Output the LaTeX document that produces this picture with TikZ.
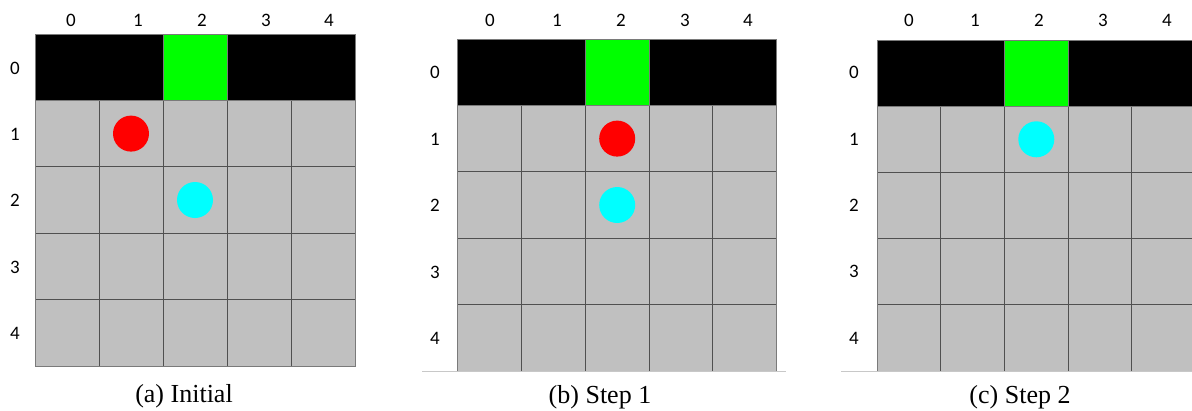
\documentclass[tikz,border=0pt]{standalone}
\usepackage{fontspec}
\setmainfont{Liberation Serif}
\newfontfamily\carlitofont{Carlito}
\definecolor{cellgray}{HTML}{C0C0C0}
\definecolor{goalgreen}{HTML}{00FF00}
\definecolor{agentred}{HTML}{FF0000}
\definecolor{agentcyan}{HTML}{00FFFF}
\definecolor{gridcol}{HTML}{505050}
\definecolor{bordercol}{HTML}{7A7A7A}
\definecolor{floorcol}{HTML}{C8C8C8}
\newcommand{\gwpanel}{%
  \fill[cellgray] (0,1) rectangle (5,5);
  \fill[black] (0,0) rectangle (5,1);
  \fill[goalgreen] (2,0) rectangle (3,1);
  \foreach \i in {1,...,4} \draw[gridline] (\i,1) -- (\i,5);
  \foreach \j in {2,...,4} \draw[gridline] (0,\j) -- (5,\j);
  \draw[borderline] (0,1) -- (5,1);
  \draw[borderline] (2,0) rectangle (3,1);
  \draw[borderline] (0,0) rectangle (5,5);
}
\begin{document}
\begin{tikzpicture}[x=1pt,y=-1pt,
  gridline/.style={draw=gridcol,line width=0.9pt},
  borderline/.style={draw=bordercol,line width=0.9pt},
  lbl/.style={font=\carlitofont\fontsize{19pt}{21pt}\selectfont,inner sep=0pt,text=black},
  capt/.style={font=\fontsize{26pt}{29pt}\selectfont,inner sep=0pt},
  agent/.style={circle,minimum size=36pt,inner sep=0pt}]
\useasboundingbox (0,0) rectangle (1192,410);
\fill[white] (0,0) rectangle (1192,410);

% panel a
\begin{scope}[shift={(35pt,-34pt)},x=64pt,y=-66.4pt]
  \gwpanel
  \node[agent,fill=agentred] (aRed) at (1.5,1.5) {};
  \node[agent,fill=agentcyan] (aCyan) at (2.5,2.5) {};
\end{scope}
% panel b
\begin{scope}[shift={(457.7pt,-39pt)},x=63.8pt,y=-66.4pt]
  \gwpanel
  \node[agent,fill=agentred] (bRed) at (2.5,1.5) {};
  \node[agent,fill=agentcyan] (bCyan) at (2.5,2.5) {};
\end{scope}
% panel c
\begin{scope}[shift={(877.3pt,-40pt)},x=63.6pt,y=-66.2pt]
  \gwpanel
  \node[agent,fill=agentcyan] (cCyan) at (2.5,1.5) {};
\end{scope}

\draw[draw=floorcol,line width=0.8pt] (422,371) -- (786,371);
\draw[draw=floorcol,line width=0.8pt] (841,371) -- (1192,371);

% column labels
\foreach \x [count=\k from 0] in {71,138,202,266,329} \node[lbl] (acol\k) at (\x,20) {\k};
\foreach \x [count=\k from 0] in {490,557,621,685,748} \node[lbl] (bcol\k) at (\x,20) {\k};
\foreach \x [count=\k from 0] in {909,975,1039,1103,1167} \node[lbl] (ccol\k) at (\x,20) {\k};
% row labels
\foreach \y [count=\k from 0] in {68,134,200,267,333} \node[lbl] (arow\k) at (15,\y) {\k};
\foreach \y [count=\k from 0] in {72,139,205,272,338} \node[lbl] (brow\k) at (435,\y) {\k};
\foreach \y [count=\k from 0] in {72,139,205,271,338} \node[lbl] (crow\k) at (854,\y) {\k};

% captions
\node[capt] (capA) at (184,396) {(a) Initial};
\node[capt] (capB) at (600,397) {(b) Step 1};
\node[capt] (capC) at (1020,397) {(c) Step 2};
\end{tikzpicture}
\end{document}
